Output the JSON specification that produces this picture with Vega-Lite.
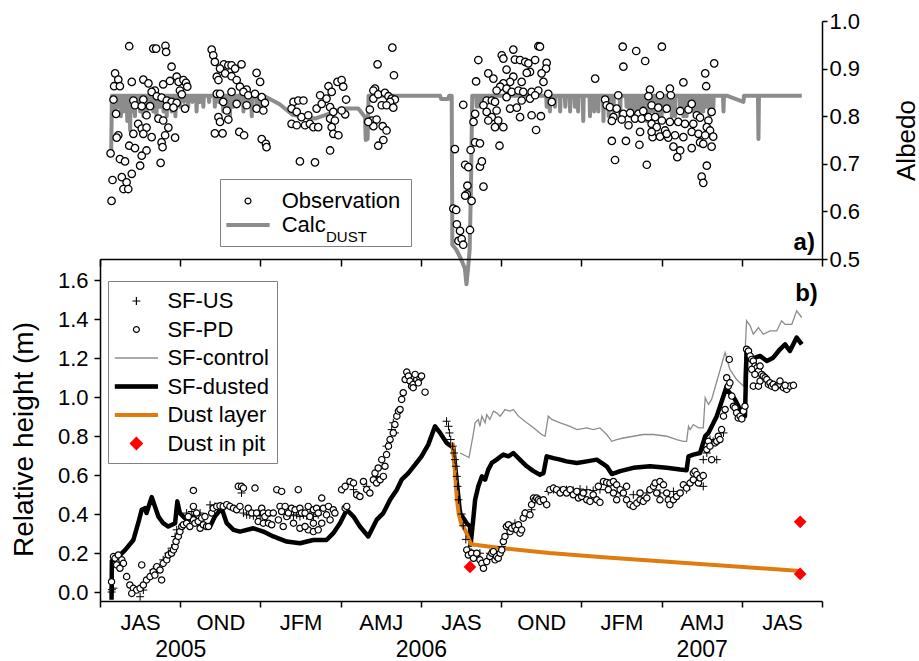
{
"$schema":"https://vega.github.io/schema/vega-lite/v6.json",
"autosize":{"type":"none"},
"padding":{"left":100,"top":21,"right":819,"bottom":640},
"background":"white",
"bounds":"flush",
"spacing":0,
"resolve":{"scale":{"stroke":"independent"},"legend":{"stroke":"independent"}},
"config":{"view":{"stroke":null},"font":"Liberation Sans",
 "axis":{"labelFont":"Liberation Sans","titleFont":"Liberation Sans","labelColor":"black","titleColor":"black","domainColor":"black","tickColor":"black","titleFontWeight":"normal","grid":false,"labelFlush":false,"labelOverlap":false,"labelBound":false,"labelFontSize":22,"titleFontSize":26,"tickWidth":1.5,"domainWidth":1.5},
 "legend":{"labelFont":"Liberation Sans","labelFontSize":22,"labelColor":"black","labelLimit":400}},
"datasets":{
"calc":[
{"t":2005.535,"a":0.728},{"t":2005.537,"a":0.843},
{"t":2005.5465,"a":0.843},{"t":2005.548,"a":0.80},{"t":2005.5495,"a":0.843},
{"t":2005.5555,"a":0.843},{"t":2005.557,"a":0.82},{"t":2005.5585,"a":0.843},
{"t":2005.5635,"a":0.843},{"t":2005.565,"a":0.80},{"t":2005.5665,"a":0.843},
{"t":2005.5715,"a":0.843},{"t":2005.573,"a":0.81},{"t":2005.5745,"a":0.843},
{"t":2005.5835,"a":0.843},{"t":2005.585,"a":0.79},{"t":2005.5865,"a":0.843},
{"t":2005.5925,"a":0.843},{"t":2005.594,"a":0.77},{"t":2005.5955,"a":0.843},
{"t":2005.6005,"a":0.843},{"t":2005.602,"a":0.81},{"t":2005.6035,"a":0.843},
{"t":2005.6075,"a":0.843},{"t":2005.609,"a":0.80},{"t":2005.6105,"a":0.843},
{"t":2005.6155,"a":0.843},{"t":2005.617,"a":0.82},{"t":2005.6185,"a":0.843},
{"t":2005.6235,"a":0.843},{"t":2005.625,"a":0.81},{"t":2005.6265,"a":0.843},
{"t":2005.6335,"a":0.843},{"t":2005.635,"a":0.80},{"t":2005.6365,"a":0.843},
{"t":2005.6435,"a":0.843},{"t":2005.645,"a":0.81},{"t":2005.6465,"a":0.843},
{"t":2005.6535,"a":0.843},{"t":2005.655,"a":0.82},{"t":2005.6565,"a":0.843},
{"t":2005.6645,"a":0.843},{"t":2005.666,"a":0.81},{"t":2005.6675,"a":0.843},
{"t":2005.6745,"a":0.843},{"t":2005.676,"a":0.80},{"t":2005.6775,"a":0.843},
{"t":2005.6855,"a":0.843},{"t":2005.687,"a":0.82},{"t":2005.6885,"a":0.843},
{"t":2005.6965,"a":0.843},{"t":2005.698,"a":0.81},{"t":2005.6995,"a":0.843},
{"t":2005.7065,"a":0.843},{"t":2005.708,"a":0.80},{"t":2005.7095,"a":0.843},
{"t":2005.7135,"a":0.843},{"t":2005.715,"a":0.82},{"t":2005.7165,"a":0.843},
{"t":2005.7215,"a":0.843},{"t":2005.723,"a":0.81},{"t":2005.7245,"a":0.843},
{"t":2005.7335,"a":0.843},{"t":2005.735,"a":0.80},{"t":2005.7365,"a":0.843},
{"t":2005.7475,"a":0.843},{"t":2005.749,"a":0.82},{"t":2005.7505,"a":0.843},
{"t":2005.7605,"a":0.843},{"t":2005.762,"a":0.83},{"t":2005.7635,"a":0.843},
{"t":2005.7735,"a":0.843},{"t":2005.775,"a":0.82},{"t":2005.7765,"a":0.843},
{"t":2005.7865,"a":0.843},{"t":2005.788,"a":0.83},{"t":2005.7895,"a":0.843},
{"t":2005.7995,"a":0.843},{"t":2005.801,"a":0.81},{"t":2005.8025,"a":0.843},
{"t":2005.8105,"a":0.843},{"t":2005.812,"a":0.83},{"t":2005.8135,"a":0.843},
{"t":2005.8205,"a":0.843},{"t":2005.822,"a":0.82},{"t":2005.8235,"a":0.843},
{"t":2005.8385,"a":0.843},{"t":2005.840,"a":0.83},{"t":2005.8415,"a":0.843},
{"t":2005.8565,"a":0.843},{"t":2005.858,"a":0.82},{"t":2005.8595,"a":0.843},
{"t":2005.8685,"a":0.843},{"t":2005.870,"a":0.83},{"t":2005.8715,"a":0.843},
{"t":2005.8825,"a":0.843},{"t":2005.884,"a":0.81},{"t":2005.8855,"a":0.843},
{"t":2005.8935,"a":0.843},{"t":2005.895,"a":0.82},{"t":2005.8965,"a":0.843},
{"t":2005.9035,"a":0.843},{"t":2005.905,"a":0.80},{"t":2005.9065,"a":0.843},
{"t":2005.9145,"a":0.843},{"t":2005.916,"a":0.82},{"t":2005.9175,"a":0.843},
{"t":2005.9245,"a":0.843},{"t":2005.926,"a":0.82},{"t":2005.9275,"a":0.843},
{"t":2005.9355,"a":0.843},{"t":2005.937,"a":0.83},{"t":2005.9385,"a":0.843},
{"t":2005.9455,"a":0.843},{"t":2005.947,"a":0.81},{"t":2005.9485,"a":0.843},
{"t":2005.9585,"a":0.843},{"t":2005.960,"a":0.82},{"t":2005.9615,"a":0.843},
{"t":2005.9715,"a":0.843},{"t":2005.973,"a":0.80},{"t":2005.9745,"a":0.843},
{"t":2005.9865,"a":0.843},{"t":2005.988,"a":0.82},{"t":2005.9895,"a":0.843},
{"t":2005.9985,"a":0.843},{"t":2006.000,"a":0.82},{"t":2006.0015,"a":0.843},
{"t":2006.0075,"a":0.843},{"t":2006.009,"a":0.81},{"t":2006.0105,"a":0.843},
{"t":2006.019,"a":0.840},{"t":2006.060,"a":0.825},{"t":2006.100,"a":0.803},{"t":2006.170,"a":0.795},{"t":2006.235,"a":0.810},{"t":2006.250,"a":0.816},{"t":2006.305,"a":0.816},{"t":2006.326,"a":0.798},{"t":2006.328,"a":0.750},{"t":2006.334,"a":0.752},{"t":2006.337,"a":0.843},
{"t":2006.560,"a":0.843},{"t":2006.563,"a":0.836},{"t":2006.585,"a":0.836},{"t":2006.588,"a":0.843},{"t":2006.596,"a":0.843},
{"t":2006.598,"a":0.530},{"t":2006.610,"a":0.520},{"t":2006.625,"a":0.500},{"t":2006.637,"a":0.480},{"t":2006.642,"a":0.447},{"t":2006.647,"a":0.480},{"t":2006.652,"a":0.520},{"t":2006.656,"a":0.650},{"t":2006.660,"a":0.843},
{"t":2006.6725,"a":0.843},{"t":2006.674,"a":0.82},{"t":2006.6755,"a":0.843},
{"t":2006.6825,"a":0.843},{"t":2006.684,"a":0.82},{"t":2006.6855,"a":0.843},
{"t":2006.6935,"a":0.843},{"t":2006.695,"a":0.83},{"t":2006.6965,"a":0.843},
{"t":2006.8905,"a":0.843},{"t":2006.892,"a":0.82},{"t":2006.8935,"a":0.843},
{"t":2006.9005,"a":0.843},{"t":2006.902,"a":0.81},{"t":2006.9035,"a":0.843},
{"t":2006.9165,"a":0.843},{"t":2006.918,"a":0.82},{"t":2006.9195,"a":0.843},
{"t":2006.9325,"a":0.843},{"t":2006.934,"a":0.81},{"t":2006.9355,"a":0.843},
{"t":2006.9485,"a":0.843},{"t":2006.950,"a":0.82},{"t":2006.9515,"a":0.843},
{"t":2006.9635,"a":0.843},{"t":2006.965,"a":0.81},{"t":2006.9665,"a":0.843},
{"t":2006.9785,"a":0.843},{"t":2006.980,"a":0.82},{"t":2006.9815,"a":0.843},
{"t":2006.9885,"a":0.843},{"t":2006.990,"a":0.81},{"t":2006.9915,"a":0.843},
{"t":2007.0045,"a":0.843},{"t":2007.006,"a":0.79},{"t":2007.0075,"a":0.843},
{"t":2007.0255,"a":0.843},{"t":2007.027,"a":0.80},{"t":2007.0285,"a":0.843},
{"t":2007.0385,"a":0.843},{"t":2007.040,"a":0.81},{"t":2007.0415,"a":0.843},
{"t":2007.0515,"a":0.843},{"t":2007.053,"a":0.81},{"t":2007.0545,"a":0.843},
{"t":2007.0675,"a":0.843},{"t":2007.069,"a":0.79},{"t":2007.0705,"a":0.843},
{"t":2007.0835,"a":0.843},{"t":2007.085,"a":0.80},{"t":2007.0865,"a":0.843},
{"t":2007.0985,"a":0.843},{"t":2007.100,"a":0.81},{"t":2007.1015,"a":0.843},
{"t":2007.1195,"a":0.843},{"t":2007.121,"a":0.80},{"t":2007.1225,"a":0.843},
{"t":2007.1395,"a":0.843},{"t":2007.141,"a":0.82},{"t":2007.1425,"a":0.843},
{"t":2007.1505,"a":0.843},{"t":2007.152,"a":0.80},{"t":2007.1535,"a":0.843},
{"t":2007.1605,"a":0.843},{"t":2007.162,"a":0.80},{"t":2007.1635,"a":0.843},
{"t":2007.1715,"a":0.843},{"t":2007.173,"a":0.81},{"t":2007.1745,"a":0.843},
{"t":2007.1815,"a":0.843},{"t":2007.183,"a":0.81},{"t":2007.1845,"a":0.843},
{"t":2007.1925,"a":0.843},{"t":2007.194,"a":0.80},{"t":2007.1955,"a":0.843},
{"t":2007.2025,"a":0.843},{"t":2007.204,"a":0.79},{"t":2007.2055,"a":0.843},
{"t":2007.2135,"a":0.843},{"t":2007.215,"a":0.81},{"t":2007.2165,"a":0.843},
{"t":2007.2235,"a":0.843},{"t":2007.225,"a":0.81},{"t":2007.2265,"a":0.843},
{"t":2007.2365,"a":0.843},{"t":2007.238,"a":0.80},{"t":2007.2395,"a":0.843},
{"t":2007.2485,"a":0.843},{"t":2007.250,"a":0.80},{"t":2007.2515,"a":0.843},
{"t":2007.2585,"a":0.843},{"t":2007.260,"a":0.81},{"t":2007.2615,"a":0.843},
{"t":2007.2695,"a":0.843},{"t":2007.271,"a":0.82},{"t":2007.2725,"a":0.843},
{"t":2007.2805,"a":0.843},{"t":2007.282,"a":0.80},{"t":2007.2835,"a":0.843},
{"t":2007.2905,"a":0.843},{"t":2007.292,"a":0.80},{"t":2007.2935,"a":0.843},
{"t":2007.3065,"a":0.843},{"t":2007.308,"a":0.81},{"t":2007.3095,"a":0.843},
{"t":2007.3165,"a":0.843},{"t":2007.318,"a":0.80},{"t":2007.3195,"a":0.843},
{"t":2007.3265,"a":0.843},{"t":2007.328,"a":0.80},{"t":2007.3295,"a":0.843},
{"t":2007.3375,"a":0.843},{"t":2007.339,"a":0.81},{"t":2007.3405,"a":0.843},
{"t":2007.3475,"a":0.843},{"t":2007.349,"a":0.81},{"t":2007.3505,"a":0.843},
{"t":2007.3585,"a":0.843},{"t":2007.360,"a":0.80},{"t":2007.3615,"a":0.843},
{"t":2007.3685,"a":0.843},{"t":2007.370,"a":0.80},{"t":2007.3715,"a":0.843},
{"t":2007.3785,"a":0.843},{"t":2007.380,"a":0.81},{"t":2007.3815,"a":0.843},
{"t":2007.3895,"a":0.843},{"t":2007.391,"a":0.82},{"t":2007.3925,"a":0.843},
{"t":2007.3985,"a":0.843},{"t":2007.400,"a":0.80},{"t":2007.4015,"a":0.843},
{"t":2007.4095,"a":0.843},{"t":2007.411,"a":0.81},{"t":2007.4125,"a":0.843},
{"t":2007.4415,"a":0.843},{"t":2007.443,"a":0.81},{"t":2007.4445,"a":0.843},
{"t":2007.453,"a":0.843},{"t":2007.505,"a":0.830},{"t":2007.507,"a":0.843},
{"t":2007.5505,"a":0.843},{"t":2007.552,"a":0.752},{"t":2007.5535,"a":0.843},
{"t":2007.687,"a":0.843}],
"obs":[
{"t":2005.591,"a":0.947},{"t":2005.666,"a":0.942},{"t":2005.675,"a":0.942},{"t":2005.704,"a":0.948},{"t":2005.706,"a":0.935},{"t":2005.723,"a":0.904},{"t":2005.547,"a":0.890},{"t":2005.557,"a":0.877},{"t":2005.544,"a":0.863},{"t":2005.562,"a":0.863},{"t":2005.599,"a":0.872},{"t":2005.635,"a":0.877},{"t":2005.651,"a":0.869},{"t":2005.671,"a":0.854},{"t":2005.697,"a":0.867},{"t":2005.718,"a":0.874},{"t":2005.739,"a":0.883},{"t":2005.745,"a":0.872},{"t":2005.760,"a":0.876},{"t":2005.768,"a":0.870},{"t":2005.772,"a":0.862},{"t":2005.749,"a":0.854},{"t":2005.755,"a":0.846},{"t":2005.542,"a":0.835},{"t":2005.604,"a":0.833},{"t":2005.635,"a":0.835},{"t":2005.661,"a":0.851},{"t":2005.677,"a":0.842},{"t":2005.609,"a":0.823},{"t":2005.630,"a":0.821},{"t":2005.656,"a":0.821},{"t":2005.692,"a":0.839},{"t":2005.708,"a":0.833},{"t":2005.723,"a":0.830},{"t":2005.739,"a":0.828},{"t":2005.708,"a":0.821},{"t":2005.729,"a":0.818},{"t":2005.765,"a":0.816},{"t":2005.550,"a":0.805},{"t":2005.645,"a":0.802},{"t":2005.682,"a":0.795},{"t":2005.697,"a":0.791},{"t":2005.713,"a":0.776},{"t":2005.619,"a":0.784},{"t":2005.630,"a":0.774},{"t":2005.645,"a":0.776},{"t":2005.604,"a":0.763},{"t":2005.635,"a":0.763},{"t":2005.661,"a":0.756},{"t":2005.703,"a":0.760},{"t":2005.734,"a":0.755},{"t":2005.557,"a":0.760},{"t":2005.552,"a":0.755},{"t":2005.591,"a":0.738},{"t":2005.609,"a":0.733},{"t":2005.645,"a":0.728},{"t":2005.692,"a":0.745},{"t":2005.695,"a":0.735},{"t":2005.533,"a":0.722},{"t":2005.630,"a":0.717},{"t":2005.562,"a":0.710},{"t":2005.578,"a":0.705},{"t":2005.625,"a":0.696},{"t":2005.689,"a":0.702},{"t":2005.599,"a":0.679},{"t":2005.568,"a":0.672},{"t":2005.539,"a":0.666},{"t":2005.583,"a":0.661},{"t":2005.573,"a":0.647},{"t":2005.588,"a":0.647},{"t":2005.536,"a":0.622},
{"t":2005.848,"a":0.940},{"t":2005.853,"a":0.928},{"t":2005.858,"a":0.914},{"t":2005.886,"a":0.909},{"t":2005.900,"a":0.907},{"t":2005.910,"a":0.907},{"t":2005.921,"a":0.900},{"t":2005.941,"a":0.909},{"t":2005.874,"a":0.900},{"t":2005.890,"a":0.890},{"t":2005.910,"a":0.884},{"t":2005.926,"a":0.876},{"t":2005.864,"a":0.883},{"t":2005.869,"a":0.876},{"t":2005.936,"a":0.862},{"t":2005.957,"a":0.856},{"t":2005.988,"a":0.891},{"t":2005.999,"a":0.872},{"t":2005.864,"a":0.847},{"t":2005.884,"a":0.830},{"t":2005.874,"a":0.847},{"t":2005.910,"a":0.851},{"t":2005.947,"a":0.851},{"t":2005.962,"a":0.844},{"t":2005.983,"a":0.847},{"t":2006.004,"a":0.840},{"t":2006.014,"a":0.828},{"t":2005.926,"a":0.826},{"t":2005.957,"a":0.823},{"t":2005.988,"a":0.816},{"t":2006.009,"a":0.812},{"t":2005.895,"a":0.812},{"t":2005.869,"a":0.798},{"t":2005.900,"a":0.793},{"t":2005.874,"a":0.788},{"t":2005.934,"a":0.767},{"t":2005.949,"a":0.760},{"t":2006.004,"a":0.752},{"t":2006.017,"a":0.742},{"t":2006.019,"a":0.735},{"t":2005.858,"a":0.764},{"t":2005.882,"a":0.764},
{"t":2006.103,"a":0.830},{"t":2006.118,"a":0.833},{"t":2006.134,"a":0.833},{"t":2006.097,"a":0.816},{"t":2006.113,"a":0.809},{"t":2006.128,"a":0.798},{"t":2006.149,"a":0.802},{"t":2006.097,"a":0.784},{"t":2006.113,"a":0.781},{"t":2006.139,"a":0.781},{"t":2006.154,"a":0.784},{"t":2006.165,"a":0.777},{"t":2006.180,"a":0.777},{"t":2006.175,"a":0.816},{"t":2006.191,"a":0.826},{"t":2006.186,"a":0.844},{"t":2006.206,"a":0.837},{"t":2006.212,"a":0.863},{"t":2006.222,"a":0.851},{"t":2006.240,"a":0.872},{"t":2006.217,"a":0.819},{"t":2006.227,"a":0.809},{"t":2006.217,"a":0.795},{"t":2006.232,"a":0.791},{"t":2006.222,"a":0.777},{"t":2006.227,"a":0.763},{"t":2006.243,"a":0.760},{"t":2006.217,"a":0.728},{"t":2006.123,"a":0.705},{"t":2006.170,"a":0.703},{"t":2006.253,"a":0.876},{"t":2006.258,"a":0.862},{"t":2006.267,"a":0.835},{"t":2006.264,"a":0.804},{"t":2006.253,"a":0.812},
{"t":2006.365,"a":0.909},{"t":2006.411,"a":0.944},{"t":2006.416,"a":0.886},{"t":2006.357,"a":0.858},{"t":2006.352,"a":0.854},{"t":2006.352,"a":0.837},{"t":2006.367,"a":0.846},{"t":2006.388,"a":0.849},{"t":2006.399,"a":0.842},{"t":2006.409,"a":0.837},{"t":2006.419,"a":0.835},{"t":2006.404,"a":0.830},{"t":2006.378,"a":0.823},{"t":2006.393,"a":0.823},{"t":2006.414,"a":0.818},{"t":2006.341,"a":0.814},{"t":2006.347,"a":0.791},{"t":2006.362,"a":0.793},{"t":2006.352,"a":0.779},{"t":2006.381,"a":0.779},{"t":2006.393,"a":0.770},{"t":2006.383,"a":0.750},{"t":2006.367,"a":0.738},{"t":2006.336,"a":0.788},
{"t":2006.606,"a":0.731},{"t":2006.632,"a":0.824},{"t":2006.655,"a":0.729},{"t":2006.638,"a":0.698},{"t":2006.648,"a":0.693},{"t":2006.684,"a":0.694},{"t":2006.690,"a":0.705},{"t":2006.669,"a":0.745},{"t":2006.684,"a":0.743},{"t":2006.669,"a":0.805},{"t":2006.664,"a":0.788},{"t":2006.672,"a":0.873},{"t":2006.679,"a":0.918},{"t":2006.645,"a":0.654},{"t":2006.643,"a":0.636},{"t":2006.658,"a":0.622},{"t":2006.638,"a":0.633},{"t":2006.601,"a":0.606},{"t":2006.610,"a":0.603},{"t":2006.612,"a":0.573},{"t":2006.622,"a":0.559},{"t":2006.653,"a":0.561},{"t":2006.617,"a":0.538},{"t":2006.627,"a":0.542},{"t":2006.632,"a":0.530},{"t":2006.695,"a":0.652},
{"t":2006.710,"a":0.890},{"t":2006.726,"a":0.879},{"t":2006.752,"a":0.928},{"t":2006.757,"a":0.921},{"t":2006.767,"a":0.898},{"t":2006.788,"a":0.940},{"t":2006.793,"a":0.919},{"t":2006.809,"a":0.918},{"t":2006.825,"a":0.914},{"t":2006.835,"a":0.911},{"t":2006.856,"a":0.918},{"t":2006.866,"a":0.947},{"t":2006.871,"a":0.946},{"t":2006.892,"a":0.912},{"t":2006.890,"a":0.900},{"t":2006.876,"a":0.890},{"t":2006.840,"a":0.893},{"t":2006.830,"a":0.891},{"t":2006.814,"a":0.872},{"t":2006.788,"a":0.883},{"t":2006.778,"a":0.872},{"t":2006.757,"a":0.869},{"t":2006.747,"a":0.862},{"t":2006.736,"a":0.854},{"t":2006.767,"a":0.858},{"t":2006.783,"a":0.851},{"t":2006.804,"a":0.854},{"t":2006.819,"a":0.851},{"t":2006.845,"a":0.851},{"t":2006.866,"a":0.854},{"t":2006.882,"a":0.872},{"t":2006.897,"a":0.847},{"t":2006.908,"a":0.830},{"t":2006.705,"a":0.833},{"t":2006.721,"a":0.833},{"t":2006.731,"a":0.830},{"t":2006.695,"a":0.823},{"t":2006.736,"a":0.812},{"t":2006.705,"a":0.809},{"t":2006.721,"a":0.798},{"t":2006.741,"a":0.791},{"t":2006.731,"a":0.777},{"t":2006.757,"a":0.777},{"t":2006.778,"a":0.816},{"t":2006.799,"a":0.818},{"t":2006.814,"a":0.833},{"t":2006.840,"a":0.837},{"t":2006.856,"a":0.844},{"t":2006.809,"a":0.798},{"t":2006.845,"a":0.802},{"t":2006.874,"a":0.800},{"t":2006.859,"a":0.771},{"t":2006.745,"a":0.738},{"t":2006.710,"a":0.791},{"t":2006.767,"a":0.840},
{"t":2007.129,"a":0.946},{"t":2007.171,"a":0.937},{"t":2007.199,"a":0.916},{"t":2007.131,"a":0.904},{"t":2007.251,"a":0.946},{"t":2007.043,"a":0.879},{"t":2007.318,"a":0.871},{"t":2007.386,"a":0.890},{"t":2007.414,"a":0.911},{"t":2007.389,"a":0.863},{"t":2007.214,"a":0.856},{"t":2007.276,"a":0.858},{"t":2007.245,"a":0.844},{"t":2007.279,"a":0.844},{"t":2007.115,"a":0.844},{"t":2007.209,"a":0.842},{"t":2007.074,"a":0.835},{"t":2007.079,"a":0.823},{"t":2007.089,"a":0.819},{"t":2007.110,"a":0.816},{"t":2007.131,"a":0.805},{"t":2007.152,"a":0.807},{"t":2007.178,"a":0.805},{"t":2007.193,"a":0.811},{"t":2007.219,"a":0.823},{"t":2007.240,"a":0.818},{"t":2007.266,"a":0.816},{"t":2007.308,"a":0.811},{"t":2007.334,"a":0.814},{"t":2007.344,"a":0.826},{"t":2007.360,"a":0.802},{"t":2007.370,"a":0.797},{"t":2007.406,"a":0.809},{"t":2007.396,"a":0.791},{"t":2007.100,"a":0.798},{"t":2007.095,"a":0.790},{"t":2007.147,"a":0.781},{"t":2007.167,"a":0.795},{"t":2007.188,"a":0.795},{"t":2007.209,"a":0.798},{"t":2007.230,"a":0.798},{"t":2007.251,"a":0.791},{"t":2007.276,"a":0.788},{"t":2007.302,"a":0.788},{"t":2007.323,"a":0.784},{"t":2007.349,"a":0.784},{"t":2007.391,"a":0.777},{"t":2007.401,"a":0.770},{"t":2007.126,"a":0.793},{"t":2007.183,"a":0.767},{"t":2007.219,"a":0.784},{"t":2007.235,"a":0.777},{"t":2007.261,"a":0.770},{"t":2007.292,"a":0.760},{"t":2007.318,"a":0.756},{"t":2007.344,"a":0.767},{"t":2007.365,"a":0.763},{"t":2007.386,"a":0.760},{"t":2007.411,"a":0.757},{"t":2007.222,"a":0.756},{"t":2007.245,"a":0.757},{"t":2007.271,"a":0.755},{"t":2007.287,"a":0.736},{"t":2007.308,"a":0.728},{"t":2007.299,"a":0.714},{"t":2007.344,"a":0.733},{"t":2007.370,"a":0.745},{"t":2007.380,"a":0.742},{"t":2007.406,"a":0.736},{"t":2007.095,"a":0.748},{"t":2007.139,"a":0.748},{"t":2007.181,"a":0.740},{"t":2007.105,"a":0.708},{"t":2007.204,"a":0.698},{"t":2007.391,"a":0.696},{"t":2007.375,"a":0.673},{"t":2007.380,"a":0.660},{"t":2007.219,"a":0.767},{"t":2007.266,"a":0.763}],
"control":[
{"t":2006.622,"h":0.713},{"t":2006.650,"h":0.690},{"t":2006.664,"h":0.816},{"t":2006.669,"h":0.868},{"t":2006.679,"h":0.885},{"t":2006.684,"h":0.850},{"t":2006.690,"h":0.902},{"t":2006.700,"h":0.868},{"t":2006.705,"h":0.910},{"t":2006.715,"h":0.885},{"t":2006.726,"h":0.928},{"t":2006.736,"h":0.919},{"t":2006.747,"h":0.902},{"t":2006.762,"h":0.936},{"t":2006.778,"h":0.928},{"t":2006.788,"h":0.936},{"t":2006.804,"h":0.902},{"t":2006.830,"h":0.868},{"t":2006.851,"h":0.842},{"t":2006.876,"h":0.808},{"t":2006.887,"h":0.799},{"t":2006.897,"h":0.902},{"t":2006.908,"h":0.885},{"t":2006.934,"h":0.868},{"t":2006.965,"h":0.850},{"t":2006.986,"h":0.833},{"t":2007.017,"h":0.842},{"t":2007.037,"h":0.833},{"t":2007.058,"h":0.842},{"t":2007.079,"h":0.808},{"t":2007.095,"h":0.773},{"t":2007.110,"h":0.782},{"t":2007.131,"h":0.790},{"t":2007.162,"h":0.799},{"t":2007.193,"h":0.808},{"t":2007.225,"h":0.808},{"t":2007.266,"h":0.799},{"t":2007.297,"h":0.782},{"t":2007.318,"h":0.773},{"t":2007.328,"h":0.773},{"t":2007.334,"h":0.850},{"t":2007.339,"h":0.833},{"t":2007.349,"h":0.859},{"t":2007.365,"h":0.842},{"t":2007.380,"h":0.842},{"t":2007.386,"h":0.996},{"t":2007.396,"h":0.962},{"t":2007.406,"h":0.988},{"t":2007.427,"h":1.108},{"t":2007.448,"h":1.228},{"t":2007.463,"h":1.142},{"t":2007.484,"h":1.090},{"t":2007.505,"h":1.056},{"t":2007.515,"h":1.391},{"t":2007.526,"h":1.365},{"t":2007.536,"h":1.322},{"t":2007.552,"h":1.356},{"t":2007.567,"h":1.322},{"t":2007.588,"h":1.339},{"t":2007.609,"h":1.339},{"t":2007.624,"h":1.391},{"t":2007.635,"h":1.373},{"t":2007.656,"h":1.373},{"t":2007.671,"h":1.442},{"t":2007.687,"h":1.408}],
"dusted":[
{"t":2005.536,"h":-0.04},{"t":2005.537,"h":0.16},{"t":2005.547,"h":0.165},{"t":2005.578,"h":0.215},{"t":2005.604,"h":0.267},{"t":2005.619,"h":0.353},{"t":2005.630,"h":0.422},{"t":2005.640,"h":0.430},{"t":2005.645,"h":0.405},{"t":2005.661,"h":0.487},{"t":2005.671,"h":0.440},{"t":2005.682,"h":0.387},{"t":2005.697,"h":0.353},{"t":2005.713,"h":0.336},{"t":2005.734,"h":0.353},{"t":2005.741,"h":0.465},{"t":2005.749,"h":0.405},{"t":2005.770,"h":0.370},{"t":2005.791,"h":0.387},{"t":2005.812,"h":0.345},{"t":2005.843,"h":0.336},{"t":2005.858,"h":0.387},{"t":2005.879,"h":0.430},{"t":2005.895,"h":0.353},{"t":2005.916,"h":0.319},{"t":2005.936,"h":0.310},{"t":2005.978,"h":0.327},{"t":2006.009,"h":0.310},{"t":2006.040,"h":0.285},{"t":2006.082,"h":0.259},{"t":2006.123,"h":0.250},{"t":2006.165,"h":0.267},{"t":2006.206,"h":0.267},{"t":2006.227,"h":0.302},{"t":2006.248,"h":0.353},{"t":2006.269,"h":0.422},{"t":2006.290,"h":0.387},{"t":2006.310,"h":0.336},{"t":2006.336,"h":0.285},{"t":2006.362,"h":0.370},{"t":2006.383,"h":0.405},{"t":2006.404,"h":0.473},{"t":2006.425,"h":0.525},{"t":2006.440,"h":0.576},{"t":2006.461,"h":0.610},{"t":2006.482,"h":0.653},{"t":2006.502,"h":0.696},{"t":2006.523,"h":0.756},{"t":2006.544,"h":0.850},{"t":2006.560,"h":0.816},{"t":2006.580,"h":0.765},{"t":2006.601,"h":0.740},{"t":2006.622,"h":0.405},{"t":2006.643,"h":0.353},{"t":2006.653,"h":0.336},{"t":2006.655,"h":0.242},{"t":2006.664,"h":0.387},{"t":2006.669,"h":0.473},{"t":2006.679,"h":0.542},{"t":2006.690,"h":0.593},{"t":2006.700,"h":0.576},{"t":2006.710,"h":0.628},{"t":2006.721,"h":0.662},{"t":2006.736,"h":0.679},{"t":2006.757,"h":0.705},{"t":2006.773,"h":0.696},{"t":2006.788,"h":0.713},{"t":2006.814,"h":0.670},{"t":2006.830,"h":0.645},{"t":2006.851,"h":0.620},{"t":2006.871,"h":0.602},{"t":2006.882,"h":0.610},{"t":2006.892,"h":0.696},{"t":2006.913,"h":0.687},{"t":2006.934,"h":0.679},{"t":2006.954,"h":0.670},{"t":2006.986,"h":0.662},{"t":2007.017,"h":0.670},{"t":2007.048,"h":0.679},{"t":2007.079,"h":0.645},{"t":2007.095,"h":0.605},{"t":2007.121,"h":0.620},{"t":2007.162,"h":0.637},{"t":2007.214,"h":0.645},{"t":2007.266,"h":0.637},{"t":2007.308,"h":0.628},{"t":2007.328,"h":0.625},{"t":2007.334,"h":0.696},{"t":2007.349,"h":0.705},{"t":2007.370,"h":0.713},{"t":2007.386,"h":0.800},{"t":2007.396,"h":0.816},{"t":2007.422,"h":0.902},{"t":2007.443,"h":1.005},{"t":2007.453,"h":1.056},{"t":2007.458,"h":1.030},{"t":2007.479,"h":0.988},{"t":2007.500,"h":0.919},{"t":2007.510,"h":0.902},{"t":2007.515,"h":1.245},{"t":2007.526,"h":1.193},{"t":2007.557,"h":1.211},{"t":2007.578,"h":1.185},{"t":2007.598,"h":1.202},{"t":2007.619,"h":1.245},{"t":2007.635,"h":1.270},{"t":2007.650,"h":1.236},{"t":2007.671,"h":1.305},{"t":2007.687,"h":1.270}],
"dustlayer":[
{"t":2006.599,"h":0.765},{"t":2006.606,"h":0.62},{"t":2006.612,"h":0.48},{"t":2006.618,"h":0.40},{"t":2006.625,"h":0.355},{"t":2006.640,"h":0.31},{"t":2006.650,"h":0.27},{"t":2006.656,"h":0.245},{"t":2006.747,"h":0.226},{"t":2006.900,"h":0.200},{"t":2007.058,"h":0.180},{"t":2007.214,"h":0.162},{"t":2007.370,"h":0.144},{"t":2007.526,"h":0.126},{"t":2007.682,"h":0.108}],
"pit":[{"t":2006.653,"h":0.129},{"t":2007.682,"h":0.36},{"t":2007.682,"h":0.093}],
"us":[
{"t":2005.536,"h":0.0},{"t":2005.537,"h":0.012},{"t":2005.542,"h":0.02},{"t":2005.604,"h":0.0},{"t":2005.625,"h":-0.024},{"t":2005.635,"h":0.01},{"t":2005.666,"h":0.113},{"t":2005.697,"h":0.165},{"t":2005.713,"h":0.199},{"t":2005.723,"h":0.225},{"t":2005.734,"h":0.285},{"t":2005.739,"h":0.319},{"t":2005.770,"h":0.405},{"t":2005.786,"h":0.413},{"t":2005.812,"h":0.405},{"t":2005.843,"h":0.447},{"t":2005.858,"h":0.439},{"t":2005.874,"h":0.430},{"t":2005.890,"h":0.442},{"t":2005.905,"h":0.439},{"t":2005.941,"h":0.508},{"t":2005.947,"h":0.405},{"t":2005.957,"h":0.396},{"t":2005.967,"h":0.396},{"t":2005.978,"h":0.391},{"t":2005.988,"h":0.396},{"t":2005.999,"h":0.391},{"t":2006.009,"h":0.396},{"t":2006.019,"h":0.387},{"t":2006.092,"h":0.396},{"t":2006.103,"h":0.391},{"t":2006.113,"h":0.396},{"t":2006.123,"h":0.387},{"t":2006.134,"h":0.396},{"t":2006.144,"h":0.391},{"t":2006.154,"h":0.396},{"t":2006.165,"h":0.387},{"t":2006.180,"h":0.396},{"t":2006.258,"h":0.525},{"t":2006.290,"h":0.525},{"t":2006.331,"h":0.542},{"t":2006.362,"h":0.593},{"t":2006.393,"h":0.748},{"t":2006.409,"h":0.833},{"t":2006.414,"h":0.868},{"t":2006.419,"h":0.816},{"t":2006.580,"h":0.876},{"t":2006.586,"h":0.850},{"t":2006.589,"h":0.816},{"t":2006.593,"h":0.782},{"t":2006.599,"h":0.748},{"t":2006.603,"h":0.713},{"t":2006.606,"h":0.679},{"t":2006.609,"h":0.645},{"t":2006.612,"h":0.593},{"t":2006.614,"h":0.542},{"t":2006.617,"h":0.473},{"t":2006.627,"h":0.40},{"t":2006.632,"h":0.34},{"t":2006.640,"h":0.27},{"t":2006.648,"h":0.22},{"t":2006.684,"h":0.199},{"t":2006.715,"h":0.199},{"t":2006.752,"h":0.233},{"t":2006.767,"h":0.336},{"t":2006.793,"h":0.353},{"t":2006.825,"h":0.405},{"t":2006.845,"h":0.422},{"t":2006.871,"h":0.473},{"t":2006.897,"h":0.516},{"t":2006.913,"h":0.525},{"t":2006.934,"h":0.521},{"t":2006.954,"h":0.525},{"t":2006.975,"h":0.521},{"t":2006.996,"h":0.528},{"t":2007.017,"h":0.525},{"t":2007.037,"h":0.521},{"t":2007.058,"h":0.525},{"t":2007.079,"h":0.525},{"t":2007.121,"h":0.508},{"t":2007.162,"h":0.499},{"t":2007.204,"h":0.508},{"t":2007.245,"h":0.508},{"t":2007.287,"h":0.516},{"t":2007.328,"h":0.525},{"t":2007.380,"h":0.542},{"t":2007.380,"h":0.679},{"t":2007.391,"h":0.713},{"t":2007.411,"h":0.773},{"t":2007.422,"h":0.679},{"t":2007.401,"h":0.782},{"t":2007.443,"h":0.816}],
"pd":[
{"t":2005.536,"h":0.053},{"t":2005.542,"h":0.182},{"t":2005.547,"h":0.173},{"t":2005.557,"h":0.190},{"t":2005.562,"h":0.156},{"t":2005.568,"h":0.165},{"t":2005.573,"h":0.147},{"t":2005.552,"h":0.139},{"t":2005.562,"h":0.122},{"t":2005.583,"h":0.079},{"t":2005.593,"h":0.036},{"t":2005.604,"h":0.019},{"t":2005.614,"h":0.010},{"t":2005.599,"h":-0.007},{"t":2005.625,"h":0.019},{"t":2005.635,"h":0.036},{"t":2005.630,"h":0.139},{"t":2005.645,"h":0.062},{"t":2005.656,"h":0.079},{"t":2005.666,"h":0.104},{"t":2005.671,"h":0.087},{"t":2005.677,"h":0.130},{"t":2005.687,"h":0.113},{"t":2005.692,"h":0.062},{"t":2005.697,"h":0.147},{"t":2005.708,"h":0.165},{"t":2005.713,"h":0.190},{"t":2005.723,"h":0.199},{"t":2005.729,"h":0.216},{"t":2005.734,"h":0.233},{"t":2005.737,"h":0.259},{"t":2005.744,"h":0.285},{"t":2005.749,"h":0.310},{"t":2005.755,"h":0.336},{"t":2005.760,"h":0.345},{"t":2005.770,"h":0.353},{"t":2005.780,"h":0.336},{"t":2005.791,"h":0.370},{"t":2005.796,"h":0.353},{"t":2005.806,"h":0.362},{"t":2005.812,"h":0.327},{"t":2005.822,"h":0.345},{"t":2005.832,"h":0.336},{"t":2005.791,"h":0.521},{"t":2005.791,"h":0.439},{"t":2005.775,"h":0.387},{"t":2005.801,"h":0.405},{"t":2005.817,"h":0.379},{"t":2005.827,"h":0.387},{"t":2005.838,"h":0.336},{"t":2005.848,"h":0.405},{"t":2005.853,"h":0.430},{"t":2005.864,"h":0.439},{"t":2005.874,"h":0.442},{"t":2005.884,"h":0.439},{"t":2005.895,"h":0.448},{"t":2005.905,"h":0.439},{"t":2005.916,"h":0.430},{"t":2005.926,"h":0.422},{"t":2005.936,"h":0.439},{"t":2005.931,"h":0.542},{"t":2005.941,"h":0.542},{"t":2005.947,"h":0.533},{"t":2005.962,"h":0.430},{"t":2005.973,"h":0.405},{"t":2005.983,"h":0.533},{"t":2005.988,"h":0.405},{"t":2006.004,"h":0.430},{"t":2006.009,"h":0.405},{"t":2006.014,"h":0.387},{"t":2005.993,"h":0.362},{"t":2006.009,"h":0.353},{"t":2006.025,"h":0.353},{"t":2006.035,"h":0.345},{"t":2006.051,"h":0.525},{"t":2006.066,"h":0.516},{"t":2006.061,"h":0.439},{"t":2006.066,"h":0.413},{"t":2006.077,"h":0.439},{"t":2006.082,"h":0.387},{"t":2006.071,"h":0.336},{"t":2006.087,"h":0.405},{"t":2006.097,"h":0.430},{"t":2006.108,"h":0.422},{"t":2006.118,"h":0.525},{"t":2006.123,"h":0.430},{"t":2006.128,"h":0.405},{"t":2006.139,"h":0.405},{"t":2006.149,"h":0.439},{"t":2006.154,"h":0.387},{"t":2006.165,"h":0.422},{"t":2006.175,"h":0.430},{"t":2006.180,"h":0.405},{"t":2006.191,"h":0.482},{"t":2006.196,"h":0.430},{"t":2006.191,"h":0.353},{"t":2006.149,"h":0.319},{"t":2006.165,"h":0.310},{"t":2006.180,"h":0.319},{"t":2006.206,"h":0.396},{"t":2006.217,"h":0.370},{"t":2006.212,"h":0.439},{"t":2006.227,"h":0.422},{"t":2006.232,"h":0.405},{"t":2006.264,"h":0.430},{"t":2006.269,"h":0.439},{"t":2006.025,"h":0.405},{"t":2006.040,"h":0.405},{"t":2006.056,"h":0.370},{"t":2006.103,"h":0.353},{"t":2006.123,"h":0.327},{"t":2006.139,"h":0.336},{"t":2006.165,"h":0.353},{"t":2006.253,"h":0.525},{"t":2006.264,"h":0.542},{"t":2006.279,"h":0.567},{"t":2006.290,"h":0.559},{"t":2006.300,"h":0.499},{"t":2006.310,"h":0.490},{"t":2006.321,"h":0.567},{"t":2006.331,"h":0.525},{"t":2006.341,"h":0.508},{"t":2006.352,"h":0.576},{"t":2006.357,"h":0.610},{"t":2006.367,"h":0.636},{"t":2006.362,"h":0.559},{"t":2006.373,"h":0.576},{"t":2006.383,"h":0.593},{"t":2006.388,"h":0.645},{"t":2006.378,"h":0.679},{"t":2006.393,"h":0.705},{"t":2006.399,"h":0.748},{"t":2006.404,"h":0.782},{"t":2006.414,"h":0.816},{"t":2006.419,"h":0.859},{"t":2006.425,"h":0.902},{"t":2006.430,"h":0.928},{"t":2006.435,"h":0.936},{"t":2006.440,"h":0.988},{"t":2006.445,"h":1.022},{"t":2006.451,"h":1.090},{"t":2006.456,"h":1.128},{"t":2006.461,"h":1.108},{"t":2006.466,"h":1.082},{"t":2006.471,"h":1.056},{"t":2006.476,"h":1.065},{"t":2006.487,"h":1.090},{"t":2006.497,"h":1.099},{"t":2006.502,"h":1.108},{"t":2006.513,"h":1.025},{"t":2006.482,"h":1.116},{"t":2006.476,"h":1.048},{"t":2006.492,"h":1.073},
{"t":2006.643,"h":0.216},{"t":2006.648,"h":0.190},{"t":2006.658,"h":0.199},{"t":2006.664,"h":0.173},{"t":2006.674,"h":0.199},{"t":2006.684,"h":0.165},{"t":2006.690,"h":0.147},{"t":2006.695,"h":0.122},{"t":2006.705,"h":0.156},{"t":2006.715,"h":0.182},{"t":2006.721,"h":0.199},{"t":2006.726,"h":0.207},{"t":2006.731,"h":0.165},{"t":2006.736,"h":0.182},{"t":2006.741,"h":0.173},{"t":2006.747,"h":0.199},{"t":2006.752,"h":0.216},{"t":2006.757,"h":0.259},{"t":2006.762,"h":0.285},{"t":2006.767,"h":0.336},{"t":2006.773,"h":0.345},{"t":2006.778,"h":0.310},{"t":2006.783,"h":0.327},{"t":2006.793,"h":0.336},{"t":2006.799,"h":0.319},{"t":2006.804,"h":0.345},{"t":2006.809,"h":0.302},{"t":2006.814,"h":0.319},{"t":2006.819,"h":0.379},{"t":2006.825,"h":0.405},{"t":2006.840,"h":0.396},{"t":2006.845,"h":0.448},{"t":2006.851,"h":0.482},{"t":2006.856,"h":0.473},{"t":2006.861,"h":0.482},{"t":2006.866,"h":0.473},{"t":2006.871,"h":0.465},{"t":2006.882,"h":0.473},{"t":2006.892,"h":0.448},{"t":2006.902,"h":0.525},{"t":2006.913,"h":0.533},{"t":2006.923,"h":0.525},{"t":2006.934,"h":0.508},{"t":2006.944,"h":0.525},{"t":2006.954,"h":0.508},{"t":2006.965,"h":0.525},{"t":2006.975,"h":0.499},{"t":2006.986,"h":0.516},{"t":2006.991,"h":0.482},{"t":2007.001,"h":0.490},{"t":2007.006,"h":0.508},{"t":2007.017,"h":0.473},{"t":2007.027,"h":0.465},{"t":2007.037,"h":0.499},{"t":2007.048,"h":0.473},{"t":2007.058,"h":0.460},{"t":2007.069,"h":0.567},{"t":2007.079,"h":0.562},{"t":2007.089,"h":0.559},{"t":2007.100,"h":0.567},{"t":2007.110,"h":0.550},{"t":2007.121,"h":0.525},{"t":2007.131,"h":0.508},{"t":2007.141,"h":0.473},{"t":2007.152,"h":0.448},{"t":2007.162,"h":0.439},{"t":2007.173,"h":0.456},{"t":2007.183,"h":0.473},{"t":2007.193,"h":0.465},{"t":2007.204,"h":0.482},{"t":2007.214,"h":0.525},{"t":2007.225,"h":0.542},{"t":2007.230,"h":0.559},{"t":2007.235,"h":0.508},{"t":2007.245,"h":0.567},{"t":2007.256,"h":0.550},{"t":2007.266,"h":0.508},{"t":2007.271,"h":0.473},{"t":2007.276,"h":0.448},{"t":2007.287,"h":0.473},{"t":2007.297,"h":0.490},{"t":2007.308,"h":0.508},{"t":2007.318,"h":0.550},{"t":2007.328,"h":0.533},{"t":2007.339,"h":0.559},{"t":2007.349,"h":0.576},{"t":2007.349,"h":0.610},{"t":2007.354,"h":0.619},{"t":2007.360,"h":0.602},{"t":2007.365,"h":0.559},{"t":2007.370,"h":0.585},{"t":2007.380,"h":0.597},{"t":2007.053,"h":0.542},{"t":2007.084,"h":0.525},{"t":2007.141,"h":0.542},{"t":2007.183,"h":0.508},{"t":2007.100,"h":0.508},{"t":2007.245,"h":0.473},{"t":2007.110,"h":0.473},{"t":2007.391,"h":0.731},{"t":2007.396,"h":0.773},{"t":2007.401,"h":0.748},{"t":2007.406,"h":0.679},{"t":2007.417,"h":0.765},{"t":2007.422,"h":0.773},{"t":2007.427,"h":0.799},{"t":2007.432,"h":0.782},{"t":2007.437,"h":0.833},{"t":2007.443,"h":0.902},{"t":2007.448,"h":0.936},{"t":2007.453,"h":1.099},{"t":2007.458,"h":1.056},{"t":2007.463,"h":1.073},{"t":2007.469,"h":1.005},{"t":2007.474,"h":0.953},{"t":2007.479,"h":0.945},{"t":2007.484,"h":0.919},{"t":2007.489,"h":0.893},{"t":2007.495,"h":0.902},{"t":2007.500,"h":0.888},{"t":2007.505,"h":0.928},{"t":2007.510,"h":0.953},{"t":2007.461,"h":1.193},{"t":2007.515,"h":1.245},{"t":2007.521,"h":1.236},{"t":2007.526,"h":1.211},{"t":2007.531,"h":1.193},{"t":2007.536,"h":1.185},{"t":2007.541,"h":1.159},{"t":2007.547,"h":1.150},{"t":2007.552,"h":1.133},{"t":2007.536,"h":1.056},{"t":2007.552,"h":1.056},{"t":2007.557,"h":1.082},{"t":2007.562,"h":1.116},{"t":2007.567,"h":1.108},{"t":2007.573,"h":1.099},{"t":2007.578,"h":1.090},{"t":2007.583,"h":1.065},{"t":2007.588,"h":1.073},{"t":2007.593,"h":1.056},{"t":2007.598,"h":1.065},{"t":2007.609,"h":1.056},{"t":2007.619,"h":1.065},{"t":2007.630,"h":1.048},{"t":2007.640,"h":1.039},{"t":2007.650,"h":1.056},{"t":2007.661,"h":1.060},{"t":2007.531,"h":1.142},{"t":2007.541,"h":1.116},{"t":2007.557,"h":1.159},{"t":2007.619,"h":1.082},{"t":2007.604,"h":1.048},{"t":2007.635,"h":1.060}]
},
"vconcat":[
{"width":722,"height":238,
 "resolve":{"axis":{"y":"independent"}},
 "layer":[
  {"data":{"name":"calc"},"mark":{"type":"line","strokeWidth":4,"clip":false,"strokeJoin":"round"},
   "encoding":{
    "x":{"field":"t","type":"quantitative","scale":{"domain":[2005.5,2007.75],"nice":false,"zero":false},"axis":null},
    "y":{"field":"a","type":"quantitative","scale":{"domain":[0.5,1.0],"nice":false,"zero":false},
      "axis":{"orient":"right","values":[0.5,0.6,0.7,0.8,0.9,1.0],"format":".1f","tickSize":5,"labelPadding":2,"title":"Albedo","titleAngle":270,"titleX":84,"titleY":119,"titleBaseline":"middle","titleAlign":"center"}},
    "stroke":{"datum":"Calc","type":"nominal","scale":{"domain":["Observation","Calc"],"range":["black","#8c8c8c"]},
      "legend":{"orient":"none","legendX":120,"legendY":158,"direction":"vertical","title":null,"padding":10,"strokeColor":"#808080","fillColor":"transparent","symbolSize":484,"symbolStrokeWidth":1.2,"symbolOffset":6,"labelOffset":21.7,"rowPadding":1,
        "encode":{"symbols":{"update":{
          "shape":[{"test":"datum.value === 'Observation'","value":"M-0.27,0A0.27,0.27,0,1,1,0.27,0A0.27,0.27,0,1,1,-0.27,0Z"},{"value":"M-1.91,-0.127H1.91V0.127H-1.91Z"}],
          "fill":[{"test":"datum.value === 'Observation'","value":"white"},{"value":"#8c8c8c"}],
          "strokeWidth":{"value":1.2},
          "opacity":{"value":1}}}}}}}},
  {"data":{"name":"obs"},"mark":{"type":"point","shape":"circle","filled":true,"fill":"white","size":55,"strokeWidth":1.3,"opacity":1},
   "encoding":{"x":{"field":"t","type":"quantitative","axis":null},"y":{"field":"a","type":"quantitative","axis":null},"stroke":{"datum":"Observation","type":"nominal"}}},
  {"data":{"values":[{}]},"mark":{"type":"text","text":"a)","fontSize":24,"fontWeight":"bold","align":"right","baseline":"middle","font":"Liberation Sans","color":"black"},
   "encoding":{"x":{"datum":2007.728,"type":"quantitative","axis":null},"y":{"datum":0.534,"type":"quantitative","axis":null}}},
  {"data":{"values":[{}]},"mark":{"type":"text","text":"DUST","fontSize":15,"align":"left","baseline":"middle","font":"Liberation Sans","color":"black"},
   "encoding":{"x":{"datum":2006.2043,"type":"quantitative","axis":null},"y":{"datum":0.547,"type":"quantitative","axis":null}}}
 ]},
{"width":722,"height":342,
 "resolve":{"axis":{"x":"independent","y":"independent"}},
 "layer":[
  {"data":{"name":"control"},"mark":{"type":"line","strokeWidth":1.3},
   "encoding":{
    "x":{"field":"t","type":"quantitative","scale":{"domain":[2005.5,2007.75],"nice":false,"zero":false},
      "axis":{"orient":"bottom","values":[2005.5,2005.75,2006,2006.25,2006.5,2006.75,2007,2007.25,2007.5,2007.75],"labels":false,"tickSize":6,"title":null}},
    "y":{"field":"h","type":"quantitative","scale":{"domain":[-0.046,1.708],"nice":false,"zero":false},
      "axis":{"orient":"left","values":[0,0.2,0.4,0.6,0.8,1.0,1.2,1.4,1.6],"format":".1f","tickSize":6,"labelPadding":6,"title":"Relative height (m)","titleFontSize":28,"titleAngle":270,"titleX":-76,"titleY":180,"titleBaseline":"middle","titleAlign":"center"}},
    "stroke":{"datum":"SF-control","type":"nominal","scale":{"domain":["SF-US","SF-PD","SF-control","SF-dusted","Dust layer","Dust in pit"],"range":["black","black","#8c8c8c","black","#e07b10","#ff0000"]},
      "legend":{"orient":"none","legendX":8,"legendY":22,"direction":"vertical","title":null,"padding":8,"strokeColor":"#808080","fillColor":"white","symbolSize":484,"symbolStrokeWidth":1.2,"symbolOffset":8.4,"labelOffset":19,"rowPadding":5.5,
        "encode":{"symbols":{"update":{
          "shape":[
            {"test":"datum.value === 'SF-US'","value":"M-0.36,0H0.36M0,-0.36V0.36"},
            {"test":"datum.value === 'SF-PD'","value":"M-0.27,0A0.27,0.27,0,1,1,0.27,0A0.27,0.27,0,1,1,-0.27,0Z"},
            {"test":"datum.value === 'SF-control'","value":"M-1.91,-0.01H1.91V0.01H-1.91Z"},
            {"test":"datum.value === 'SF-dusted'","value":"M-1.91,-0.15H1.91V0.15H-1.91Z"},
            {"test":"datum.value === 'Dust layer'","value":"M-1.91,-0.127H1.91V0.127H-1.91Z"},
            {"value":"M-0.55,0L0,-0.55L0.55,0L0,0.55Z"}],
          "fill":[
            {"test":"datum.value === 'SF-US'","value":"transparent"},
            {"test":"datum.value === 'SF-PD'","value":"white"},
            {"test":"datum.value === 'SF-control'","value":"#8c8c8c"},
            {"test":"datum.value === 'SF-dusted'","value":"black"},
            {"test":"datum.value === 'Dust layer'","value":"#e07b10"},
            {"value":"#ff0000"}],
          "strokeWidth":{"value":1.2},
          "opacity":{"value":1}}}}}}}},
  {"data":{"name":"dusted"},"mark":{"type":"line","strokeWidth":4.5,"strokeJoin":"round"},
   "encoding":{
    "x":{"field":"t","type":"quantitative","axis":{"orient":"top","values":[2005.5,2005.75,2006,2006.25,2006.5,2006.75,2007,2007.25,2007.5,2007.75],"labels":false,"tickSize":-7,"title":null}},
    "y":{"field":"h","type":"quantitative","axis":null},
    "stroke":{"datum":"SF-dusted","type":"nominal"}}},
  {"data":{"name":"dustlayer"},"mark":{"type":"line","strokeWidth":4,"strokeJoin":"round"},
   "encoding":{
    "x":{"field":"t","type":"quantitative","axis":{"orient":"bottom","values":[2005.625,2005.875,2006.125,2006.375,2006.625,2006.875,2007.125,2007.375,2007.625],"labelExpr":"['JFM','AMJ','JAS','OND'][floor((datum.value-floor(datum.value))*4)]","ticks":false,"tickSize":0,"domain":false,"labelPadding":11,"title":null}},
    "y":{"field":"h","type":"quantitative","axis":null},
    "stroke":{"datum":"Dust layer","type":"nominal"}}},
  {"data":{"name":"us"},"mark":{"type":"point","shape":"M-1,0H1M0,-1V1","filled":false,"size":64,"strokeWidth":1,"opacity":1},
   "encoding":{
    "x":{"field":"t","type":"quantitative","axis":{"orient":"bottom","values":[2005.75,2006.5,2007.375],"labelExpr":"'' + floor(datum.value)","ticks":false,"tickSize":0,"domain":false,"labelPadding":37,"labelFontSize":23,"title":null}},
    "y":{"field":"h","type":"quantitative","axis":null},
    "stroke":{"datum":"SF-US","type":"nominal"}}},
  {"data":{"name":"pd"},"mark":{"type":"point","shape":"circle","filled":true,"fill":"white","size":40,"strokeWidth":1.2,"opacity":1},
   "encoding":{
    "x":{"field":"t","type":"quantitative","axis":null},
    "y":{"field":"h","type":"quantitative","axis":null},
    "stroke":{"datum":"SF-PD","type":"nominal"}}},
  {"data":{"name":"pit"},"mark":{"type":"point","shape":"diamond","filled":true,"fill":"#ff0000","size":160,"strokeWidth":0,"opacity":1},
   "encoding":{
    "x":{"field":"t","type":"quantitative","axis":null},
    "y":{"field":"h","type":"quantitative","axis":null},
    "stroke":{"datum":"Dust in pit","type":"nominal"}}},
  {"data":{"values":[{}]},"mark":{"type":"text","text":"b)","fontSize":24,"fontWeight":"bold","align":"right","baseline":"middle","font":"Liberation Sans","color":"black"},
   "encoding":{"x":{"datum":2007.737,"type":"quantitative","axis":null},"y":{"datum":1.528,"type":"quantitative","axis":null}}}
 ]}
]
}
